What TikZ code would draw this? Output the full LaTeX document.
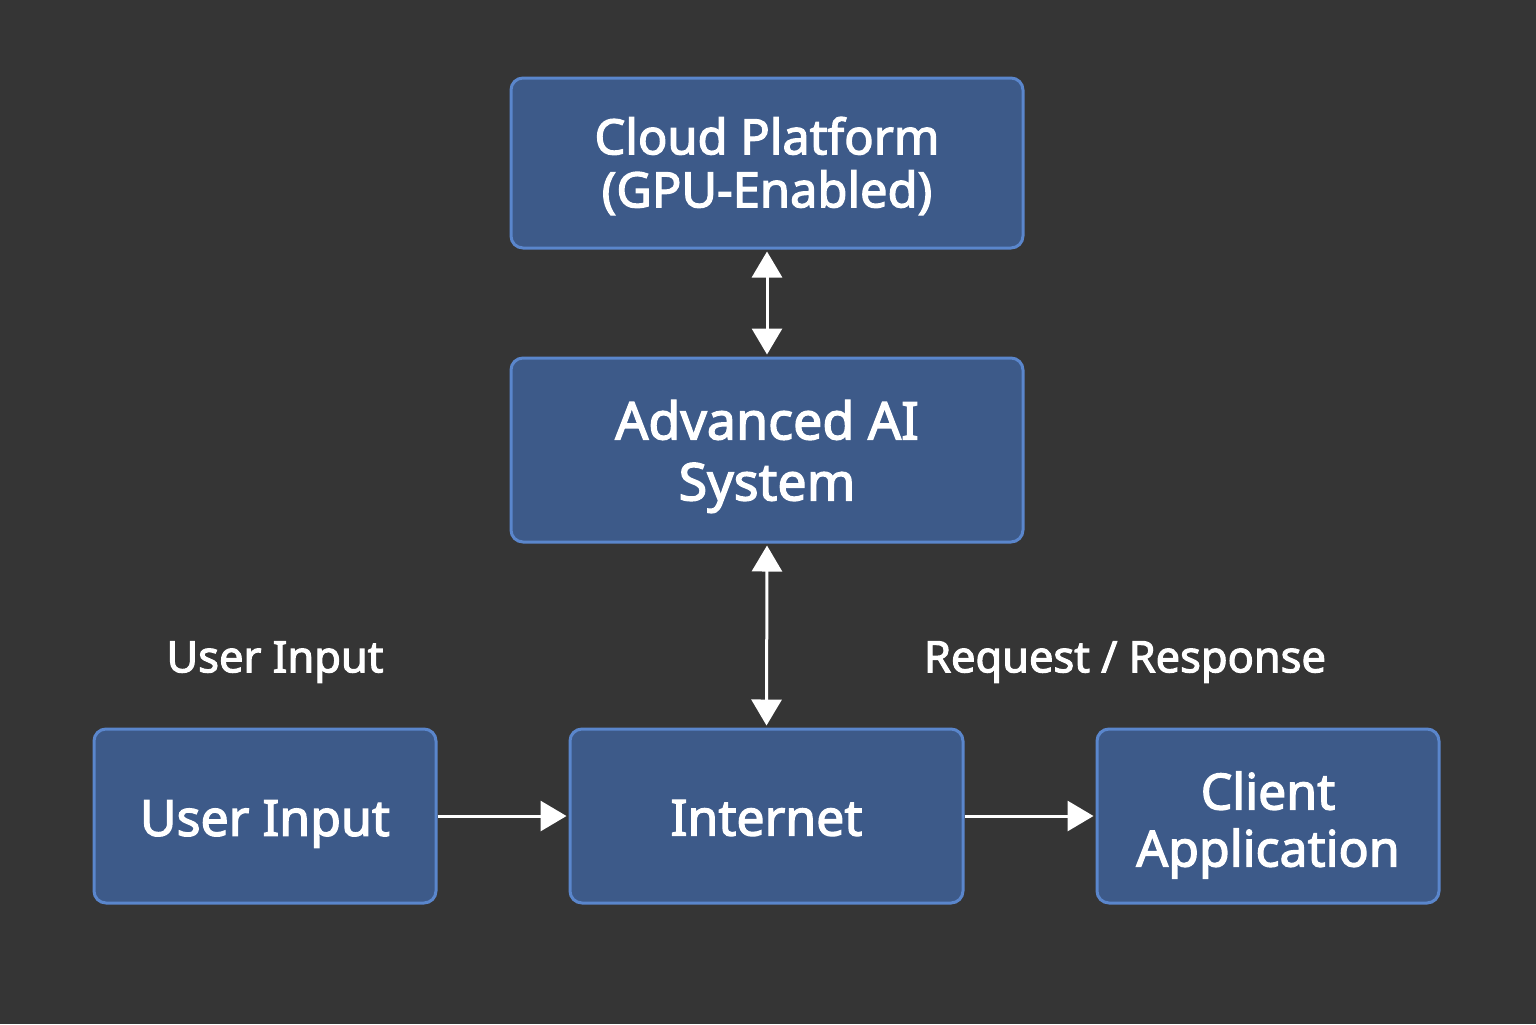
\documentclass[tikz,border=0pt]{standalone}
\usepackage{fontspec}
\setmainfont{Noto Sans}
\newfontfamily\semib{Noto Sans}[FakeBold=2.5]
\usetikzlibrary{arrows.meta}
\definecolor{bg}{HTML}{353535}
\definecolor{boxfill}{HTML}{3D5A89}
\definecolor{boxline}{HTML}{5A86CC}
\newcommand{\fsz}[2]{\semib\fontsize{#1}{#2}\selectfont}
\begin{document}
\begin{tikzpicture}[x=0.5pt,y=-0.5pt,
  box/.style={draw=boxline,line width=1.5pt,fill=boxfill,rounded corners=6pt,inner sep=0pt},
  txt/.style={text=white,align=center,inner sep=0pt},
  lbl/.style={text=white,font=\fsz{21.7}{25}},
  arr/.style={draw=white,line width=1.5pt,-{Triangle[width=15pt,length=13pt]}},
  darr/.style={draw=white,line width=1.5pt,{Triangle[width=15pt,length=13pt]}-{Triangle[width=15pt,length=13pt]}}]
\fill[bg] (0,0) rectangle (1536,1024);
\useasboundingbox (0,0) rectangle (1536,1024);
\node[box,minimum width=256pt,minimum height=85pt,
  label={[txt,font=\fsz{24.4}{26.5},yshift=-1.5pt]center:Cloud Platform\\(GPU-Enabled)}] (cloud) at (767,163) {};
\node[box,minimum width=256pt,minimum height=92pt,
  label={[txt,font=\fsz{26}{30.5},yshift=-3.2pt]center:Advanced AI\\System}] (ai) at (767,450) {};
\node[box,minimum width=171pt,minimum height=87pt,
  label={[txt,font=\fsz{25}{28.5},yshift=-4pt]center:User Input}] (user) at (265,816) {};
\node[box,minimum width=196.5pt,minimum height=87pt,
  label={[txt,font=\fsz{25}{28.5},yshift=-1pt]center:Internet}] (net) at (766.5,816) {};
\node[box,minimum width=171pt,minimum height=87pt,
  label={[txt,font=\fsz{25}{28.5},yshift=-4.5pt]center:Client\\Application}] (client) at (1268,816) {};
\node[lbl] (ulbl) at (275,662) {User Input};
\node[lbl] (rlbl) at (1125,662) {Request / Response};
\draw[darr] ([yshift=-1pt]cloud.south) -- ([yshift=1pt]ai.north);
\draw[darr] ([yshift=-1pt]ai.south) -- ([yshift=1pt]net.north);
\draw[arr] (user.east) -- ([xshift=-1pt]net.west);
\draw[arr] (net.east) -- ([xshift=-1pt]client.west);
\end{tikzpicture}
\end{document}
